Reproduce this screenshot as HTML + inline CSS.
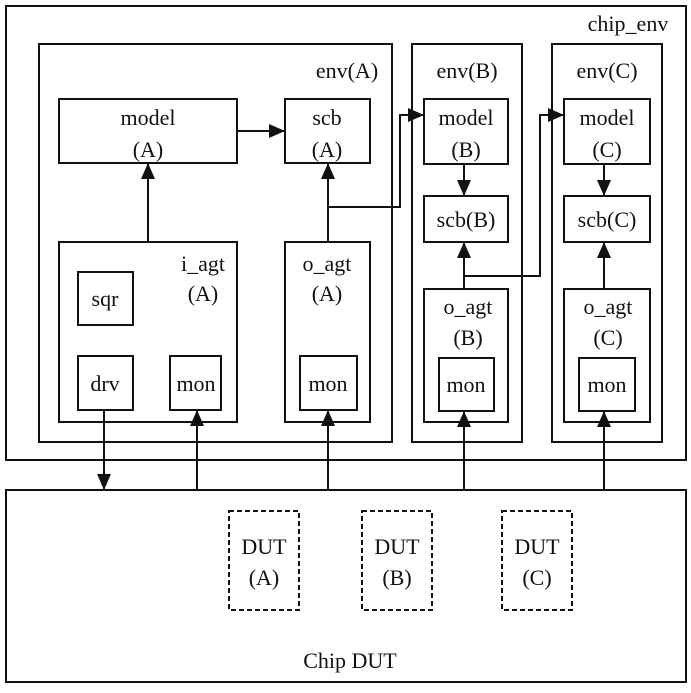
<!DOCTYPE html>
<html><head><style>
body{margin:0;background:#fff}
svg text{font-family:"Liberation Serif",serif;font-size:22px;fill:#111}
</style></head><body>
<svg width="691" height="688" viewBox="0 0 691 688">
<defs><marker id="a" markerWidth="16" markerHeight="14" refX="15" refY="7" orient="auto" markerUnits="userSpaceOnUse"><path d="M0,0 L16,7 L0,14 z" fill="#111"/></marker></defs>
<g fill="none" stroke="#111" stroke-width="2">
<rect x="6" y="6" width="680" height="454"/>
<rect x="39" y="44" width="353" height="398"/>
<rect x="412" y="44" width="110" height="398"/>
<rect x="552" y="44" width="110" height="398"/>
<rect x="59" y="99" width="178" height="64"/>
<rect x="285" y="99" width="85" height="64"/>
<rect x="424" y="99" width="84" height="65"/>
<rect x="564" y="99" width="86" height="65"/>
<rect x="424" y="196" width="84" height="46"/>
<rect x="564" y="196" width="86" height="46"/>
<rect x="59" y="242" width="178" height="180"/>
<rect x="78" y="272" width="55" height="53"/>
<rect x="78" y="356" width="55" height="54"/>
<rect x="170" y="356" width="51" height="54"/>
<rect x="285" y="242" width="85" height="180"/>
<rect x="300" y="356" width="57" height="54"/>
<rect x="424" y="289" width="84" height="133"/>
<rect x="439" y="358" width="55" height="53"/>
<rect x="564" y="289" width="86" height="133"/>
<rect x="579" y="358" width="56" height="53"/>
<rect x="6" y="490" width="680" height="192"/>
<g stroke-dasharray="5,3"><rect x="229" y="511" width="70" height="99"/><rect x="362" y="511" width="70" height="99"/><rect x="502" y="511" width="70" height="99"/></g>
<line x1="237" y1="131" x2="284" y2="131" marker-end="url(#a)"/>
<line x1="148" y1="242" x2="148" y2="164" marker-end="url(#a)"/>
<line x1="328" y1="242" x2="328" y2="164" marker-end="url(#a)"/>
<polyline points="328,207 400,207 400,115 423,115" marker-end="url(#a)"/>
<line x1="464" y1="164" x2="464" y2="195" marker-end="url(#a)"/>
<line x1="604" y1="164" x2="604" y2="195" marker-end="url(#a)"/>
<line x1="464" y1="289" x2="464" y2="243" marker-end="url(#a)"/>
<line x1="604" y1="289" x2="604" y2="243" marker-end="url(#a)"/>
<polyline points="464,276 540,276 540,115 563,115" marker-end="url(#a)"/>
<line x1="104" y1="410" x2="104" y2="489" marker-end="url(#a)"/>
<line x1="197" y1="490" x2="197" y2="411" marker-end="url(#a)"/>
<line x1="328" y1="490" x2="328" y2="411" marker-end="url(#a)"/>
<line x1="464" y1="490" x2="464" y2="412" marker-end="url(#a)"/>
<line x1="604" y1="490" x2="604" y2="412" marker-end="url(#a)"/>
</g>
<g text-anchor="middle">
<text x="628" y="31">chip_env</text>
<text x="347" y="78">env(A)</text>
<text x="467" y="78">env(B)</text>
<text x="607" y="78">env(C)</text>
<text x="148" y="125">model</text><text x="148" y="157">(A)</text>
<text x="327" y="125">scb</text><text x="327" y="157">(A)</text>
<text x="466" y="125">model</text><text x="466" y="157">(B)</text>
<text x="607" y="125">model</text><text x="607" y="157">(C)</text>
<text x="466" y="227">scb(B)</text>
<text x="607" y="227">scb(C)</text>
<text x="203" y="271">i_agt</text><text x="203" y="301">(A)</text>
<text x="327" y="271">o_agt</text><text x="327" y="301">(A)</text>
<text x="468" y="314">o_agt</text><text x="468" y="345">(B)</text>
<text x="608" y="314">o_agt</text><text x="608" y="345">(C)</text>
<text x="105" y="306">sqr</text>
<text x="105" y="391">drv</text>
<text x="196" y="391">mon</text>
<text x="328" y="391">mon</text>
<text x="466" y="392">mon</text>
<text x="607" y="392">mon</text>
<text x="264" y="554">DUT</text><text x="264" y="585">(A)</text>
<text x="397" y="554">DUT</text><text x="397" y="585">(B)</text>
<text x="537" y="554">DUT</text><text x="537" y="585">(C)</text>
<text x="350" y="668">Chip DUT</text>
</g>
</svg>
</body></html>
